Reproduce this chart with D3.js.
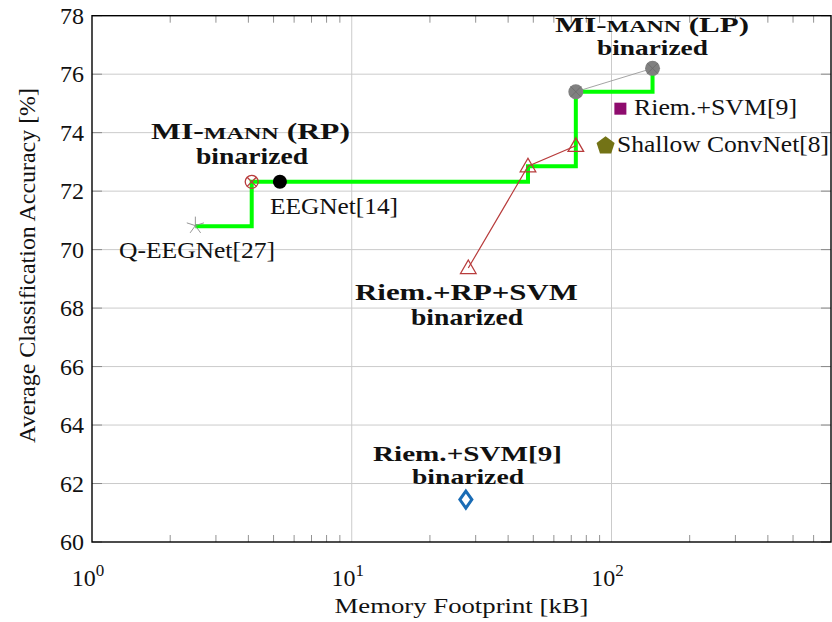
<!DOCTYPE html>
<html><head><meta charset="utf-8">
<script src="https://cdn.jsdelivr.net/npm/d3@7"></script>
<style>body{margin:0;background:#fff}svg{display:block}text{font-family:"Liberation Serif",serif;fill:#111}</style>
</head><body><svg id="c" width="832" height="622"></svg>
<script>
// ---- data ----
const yTicks = [60,62,64,66,68,70,72,74,76,78];
const xMajor = [1,10,100];
const xMajorExp = ["0","1","2"];
// Pareto frontier (green step line)
const frontierX = [2.5, 4.12, 47.7, 72.9, 143.9];
const frontierY = [70.8, 72.32, 72.85, 75.4, 76.2];
// Riem.+RP+SVM binarized (red triangles)
const rpX = [28.1, 47.7, 72.9];
const rpY = [69.37, 72.85, 73.55];
// MI-mann (LP) binarized (grey circles)
const lpX = [72.9, 143.9];
const lpY = [75.4, 76.2];
// single points
const qeegX = [2.5],   qeegY = [70.82];
const rpMannX = [4.12], rpMannY = [72.32];
const eegnetX = [5.29], eegnetY = [72.32];
const riemX = [108.2], riemY = [74.82];
const shallowX = [94.9], shallowY = [73.55];
const riemBinX = [27.5], riemBinY = [61.45];

const svg = d3.select("#c");
const L=92, R=831, T=15.7, B=542;
const x = d3.scaleLog().domain([1,700]).range([L,R]);
const y = d3.scaleLinear().domain([60,78]).range([B,T]);

// grid
const g = svg.append("g");
g.selectAll(".gx").data(xMajor.slice(1)).join("line")
  .attr("x1",d=>x(d)).attr("x2",d=>x(d)).attr("y1",T).attr("y2",B)
  .attr("stroke","#cbcbcb").attr("stroke-width",1);
g.selectAll(".gy").data(yTicks.slice(1,-1)).join("line")
  .attr("x1",L).attr("x2",R).attr("y1",d=>y(d)).attr("y2",d=>y(d))
  .attr("stroke","#cbcbcb").attr("stroke-width",1);

// minor x ticks (inward, top and bottom)
const minor = [];
[1,10,100].forEach(b=>{for(let k=2;k<=9;k++){if(b*k<700)minor.push(b*k);}});
g.selectAll(".mb").data(minor).join("line")
  .attr("x1",d=>x(d)).attr("x2",d=>x(d)).attr("y1",B).attr("y2",B-7)
  .attr("stroke","#777").attr("stroke-width",0.8);
g.selectAll(".mt").data(minor).join("line")
  .attr("x1",d=>x(d)).attr("x2",d=>x(d)).attr("y1",T).attr("y2",T+7)
  .attr("stroke","#777").attr("stroke-width",0.8);
// major y ticks (inward, left and right)
g.selectAll(".yl").data(yTicks).join("line")
  .attr("x1",L).attr("x2",L+10).attr("y1",d=>y(d)).attr("y2",d=>y(d))
  .attr("stroke","#777").attr("stroke-width",0.8);
g.selectAll(".yr").data(yTicks).join("line")
  .attr("x1",R).attr("x2",R-10).attr("y1",d=>y(d)).attr("y2",d=>y(d))
  .attr("stroke","#777").attr("stroke-width",0.8);

// tick labels
g.selectAll(".ytl").data(yTicks).join("text")
  .attr("x",L-8).attr("y",d=>y(d)+8).attr("text-anchor","end")
  .attr("font-size",24).text(d=>d);
const xt = g.selectAll(".xtl").data(xMajor).join("text")
  .attr("x",(d,i)=>x(d)-4).attr("y",B+44).attr("text-anchor","middle").attr("font-size",24);
xt.append("tspan").text("10");
xt.append("tspan").attr("font-size",17).attr("dy",-10).text((d,i)=>xMajorExp[i]);

// axis labels
svg.append("text").attr("x",(L+R)/2).attr("y",613).attr("text-anchor","middle")
  .attr("font-size",22).attr("textLength",254).attr("lengthAdjust","spacingAndGlyphs")
  .text("Memory Footprint [kB]");
svg.append("text").attr("transform","translate(35,265.5) rotate(-90)").attr("text-anchor","middle")
  .attr("font-size",24).attr("textLength",355).attr("lengthAdjust","spacingAndGlyphs")
  .text("Average Classification Accuracy [%]");

// plot content
const pts = (xs,ys)=>xs.map((v,i)=>[x(v),y(ys[i])]);
// grey connecting line
svg.append("path").attr("d",d3.line()(pts(lpX,lpY))).attr("fill","none")
  .attr("stroke","#9a9a9a").attr("stroke-width",0.9);
// green frontier
svg.append("path").attr("d",d3.line().curve(d3.curveStepAfter)(pts(frontierX,frontierY)))
  .attr("fill","none").attr("stroke","#00ff00").attr("stroke-width",4);
// red line
svg.append("path").attr("d",d3.line()(pts(rpX,rpY))).attr("fill","none")
  .attr("stroke","#b83c3c").attr("stroke-width",1.2);

// triangles
const tri = d3.symbol().type(d3.symbolTriangle).size(105);
svg.selectAll(".tri").data(pts(rpX,rpY)).join("path")
  .attr("d",tri).attr("transform",d=>`translate(${d[0]},${d[1]+1})`)
  .attr("fill","none").attr("stroke","#b83c3c").attr("stroke-width",1.3);

// Q-EEGNet star (5 rays)
pts(qeegX,qeegY).forEach(p=>{
  const r=9;
  for(let k=0;k<5;k++){
    const a=(90+72*k)*Math.PI/180;
    svg.append("line").attr("x1",p[0]).attr("y1",p[1]).attr("x2",p[0]+r*Math.cos(a)).attr("y2",p[1]-r*Math.sin(a))
      .attr("stroke","#8a8a8a").attr("stroke-width",0.9);
  }
});

// otimes red (MI-mann RP)
pts(rpMannX,rpMannY).forEach(p=>{
  const r=6.5, s=r*0.707;
  svg.append("circle").attr("cx",p[0]).attr("cy",p[1]).attr("r",r).attr("fill","none").attr("stroke","#b83c3c").attr("stroke-width",1.3);
  svg.append("path").attr("d",`M${p[0]-s},${p[1]-s}L${p[0]+s},${p[1]+s}M${p[0]-s},${p[1]+s}L${p[0]+s},${p[1]-s}`)
    .attr("stroke","#b83c3c").attr("stroke-width",1.3);
});
// EEGNet black dot
svg.selectAll(".eeg").data(pts(eegnetX,eegnetY)).join("circle")
  .attr("cx",d=>d[0]).attr("cy",d=>d[1]).attr("r",7).attr("fill","#000");
// grey otimes* (MI-mann LP)
pts(lpX,lpY).forEach(p=>{
  const r=7.5, s=r*0.707;
  svg.append("circle").attr("cx",p[0]).attr("cy",p[1]).attr("r",r).attr("fill","#808080");
  svg.append("path").attr("d",`M${p[0]-s},${p[1]-s}L${p[0]+s},${p[1]+s}M${p[0]-s},${p[1]+s}L${p[0]+s},${p[1]-s}`)
    .attr("stroke","#6a6a6a").attr("stroke-width",0.8);
});
// purple square
svg.selectAll(".sq").data(pts(riemX,riemY)).join("rect")
  .attr("x",d=>d[0]-6).attr("y",d=>d[1]-6).attr("width",12).attr("height",12).attr("fill","#8e0c6e");
// olive pentagon
pts(shallowX,shallowY).forEach(p=>{
  const r=9.5, v=[];
  for(let k=0;k<5;k++){const a=(90+72*k)*Math.PI/180;v.push([p[0]+r*Math.cos(a),p[1]-r*Math.sin(a)]);}
  svg.append("path").attr("d","M"+v.join("L")+"Z").attr("fill","#737316");
});
// blue diamond
pts(riemBinX,riemBinY).forEach(p=>{
  svg.append("path").attr("d",`M${p[0]},${p[1]-8.5}L${p[0]+6},${p[1]}L${p[0]},${p[1]+8.5}L${p[0]-6},${p[1]}Z`)
    .attr("fill","none").attr("stroke","#1a6cb5").attr("stroke-width",3).attr("stroke-linejoin","miter");
});

// frame
svg.append("rect").attr("x",L).attr("y",T).attr("width",R-L).attr("height",B-T)
  .attr("fill","none").attr("stroke","#000").attr("stroke-width",1.4);

// labels
function lab(xp,yp,anchor,w,bold,fs,parts){
  const t=svg.append("text").attr("x",xp).attr("y",yp).attr("text-anchor",anchor)
    .attr("font-size",fs).attr("font-weight",bold?"bold":"normal")
    .attr("textLength",w).attr("lengthAdjust","spacingAndGlyphs");
  parts.forEach(pt=>t.append("tspan").attr("font-size",pt[1]||fs).text(pt[0]));
}
lab(250.5,139,"middle",199,true,23,[["MI-"],["MANN",17.5],[" (RP)"]]);
lab(252,164,"middle",112,true,23,[["binarized"]]);
lab(270,214,"start",128,false,24,[["EEGNet[14]"]]);
lab(119,258,"start",156,false,24,[["Q-EEGNet[27]"]]);
lab(652,32,"middle",194,true,22,[["MI-"],["MANN",17],[" (LP)"]]);
lab(652.5,55,"middle",111,true,22,[["binarized"]]);
lab(634,115,"start",163,false,24,[["Riem.+SVM[9]"]]);
lab(617,152,"start",212,false,24,[["Shallow ConvNet[8]"]]);
lab(466.5,300,"middle",223,true,23,[["Riem.+RP+SVM"]]);
lab(467,325,"middle",112,true,23,[["binarized"]]);
lab(467.5,461,"middle",189,true,22,[["Riem.+SVM[9]"]]);
lab(468,484,"middle",112,true,22,[["binarized"]]);
</script></body></html>
